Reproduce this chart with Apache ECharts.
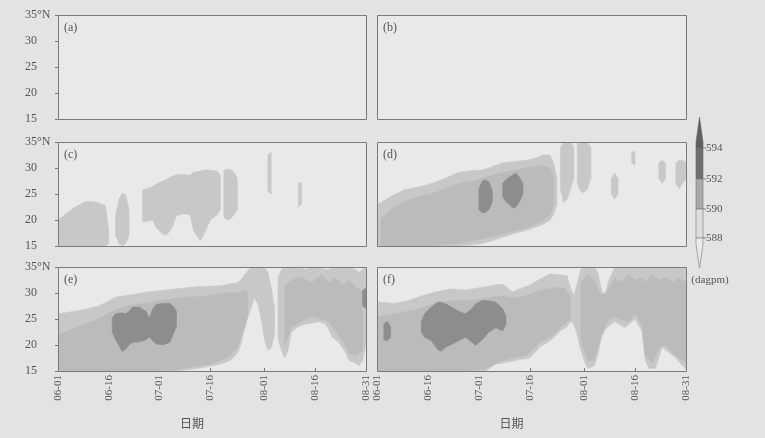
<!DOCTYPE html>
<html><head><meta charset="utf-8">
<script src="https://cdn.jsdelivr.net/npm/echarts@6/dist/echarts.min.js"></script>
<style>html,body{margin:0;padding:0;background:#e3e3e1;}#c{width:765px;height:438px;}</style>
</head><body><div id="c"></div><script>
// ---------- data ----------
const tickDays = [0, 15, 30, 45, 61, 76, 91];
const tickLabels = ['06-01', '06-16', '07-01', '07-16', '08-01', '08-16', '08-31'];
const panelNames = ['(a)', '(b)', '(c)', '(d)', '(e)', '(f)'];
const levelLabels = ['594', '592', '590', '588'];
const unitLabel = '(dagpm)';
const xName = '日期';

// rows: [day index from 06-01, lower latitude, upper latitude]
// panel (c) : >=588 regions
const c588a = [[0,15,20],[3,15,21.5],[5,15,22.5],[8,15,23.5],[10,15,23.6],[12,15,23.3],[14,15,22.8],[15,15.5,18]];
const c588b = [[17,17,21],[18,15.5,24],[19,15,25.2],[20,15.5,24.8],[21,17,22]];
const c588c = [[25,19.6,25.8],[27,19.8,26.2],[28,20,26.5],[29,18.5,26.9],[31,17.2,27.5],[32,17.1,27.8],[33,17.8,28.2],[34,19,28.5],[35,20.8,28.7],[37,21.2,28.8],[39,21,28.6],[40,18,29.2],[42,16,29.4],[43,17,29.6],[45,20,29.6],[47,21,29.4],[48,22,28.6]];
const c588d = [[49,20.5,29.6],[50,20,29.8],[51,20.2,29.7],[52,21,29.2],[53,22,28]];
const c588e = [[62,25.5,32.5],[63,25,33]];
const c588f = [[71,22.5,27.3],[72,23,27]];
// panel (d)
const d588a = [[0,15,22.9],[4,15,24.5],[8,15,25.8],[12,15,26.3],[16,15,27],[20,15,28],[24,15,29.2],[28,15.2,29.5],[31,15.5,29.6],[34,16,30.3],[37,16.7,31],[40,17.3,31.2],[44,18,31.5],[47,18.7,32],[49,19.2,32.5],[51,20,32.5],[52,21,31],[53,23,28]];
const d588b = [[54,26,34],[55,23.3,35],[56,24,35],[57,26,35],[58,28,34]];
const d588c = [[59,27,35],[60,25.5,35],[61,25.2,35],[62,26,35],[63,28,34]];
const d588d = [[69,25,28],[70,24,29],[71,25,28]];
const d588e = [[75,31,33],[76,30.5,33.2]];
const d588f = [[83,28,31],[84,27,31.5],[85,28,31]];
const d588g = [[88,27,31],[89,26,31.5],[90,27,31.5],[91,28,31]];
const d590a = [[1,15,20],[4,15,22],[8,15,23.5],[12,15,24.5],[16,15,25],[20,15.3,26],[24,15.5,27],[28,16,27.5],[32,16.5,28.2],[36,17.2,29],[40,17.8,29.5],[44,18.5,30],[48,19.5,30.5],[51,21,30],[52,23,28]];
const d592a = [[30,22,26],[31,21.3,27.5],[32,21.5,27.7],[33,22,27.3],[34,23.5,25.5]];
const d592b = [[37,24.5,27],[38,23.5,27.8],[40,22.3,28.7],[41,22.5,29],[42,23.5,28.2],[43,25,27]];
// panel (e)
const e588a = [[0,15,26],[5,15,26.5],[9,15,27],[12,15,27.5],[15,15,28.5],[17,15,29.2],[20,15,29.5],[23,15,29.8],[26,15,30.2],[29,15,30.4],[32,15,30.6],[35,15,30.8],[38,15.2,31],[41,15.5,31.2],[44,15.8,31.3],[48,16.3,31.4],[51,17,31.8],[53,18.5,32],[54,20,32.5],[55,23,33.5],[56,25,34.2],[57,27,35],[58,29,35],[59,28,35],[60,25,35],[61,21,35],[62,19,34],[63,19.5,31],[64,22,27]];
const e588b = [[65,21,33],[66,19,34.5],[67,17.5,35],[68,19,35],[69,22.5,35],[71,23.5,35],[73,24,34.5],[75,24.2,35],[77,24.5,35],[79,24,34.5],[80,23,34.5],[81,21.5,34.8],[83,20.5,35],[85,18.5,35],[86,17,35],[88,16.5,34.5],[89,16,34],[90,17,34.5],[91,20,35]];
const e590a = [[0,15,22],[4,15,23],[8,15,24],[12,15,25],[16,15,26.5],[20,15,27.5],[25,15,28],[30,15,28.5],[35,15.2,29],[40,15.8,29.3],[45,16.3,29.5],[50,17.5,30],[53,19.5,30],[55,23,30.5],[56,25.5,30]];
const e590b = [[67,20,31.5],[69,23.5,32.5],[72,24.5,33],[75,25.5,32],[78,25,33.5],[80,24.5,32],[82,22.5,33],[84,21,31.5],[86,18.5,32.5],[88,18,31],[90,19,30.5]];
const e592a = [[16,22.5,25.2],[17,21,26],[19,18.7,26.2],[20,19.2,26],[21,20,26.5],[22,20.5,27.3],[24,20.6,27.3],[26,21,26.5],[27,21.5,25.2],[28,20.8,27],[29,20.2,27.8],[31,20,28],[33,20.5,28],[34,22,27.5],[35,23.5,26.5]];
const e592b = [[90,27.5,30.5],[91,27,31]];
// panel (f)
const f588a = [[0,15,28.3],[5,15,28],[9,15,28.5],[13,15,29.4],[17,15,30.2],[22,15,30.8],[26,15,30.6],[32,15,31.2],[35,16.3,31.6],[37,16.5,31.7],[40,16.9,30.2],[42,17.2,30.8],[45,17.5,31.5],[48,19.6,32.7],[51,20.8,33.7],[54,22.7,33.5],[56,23.5,33.3],[57,24.5,31],[58,24,29.5],[59,21.8,32],[60,19,34.5],[61,17,35],[62,15.5,35],[64,16,35],[65,18,34],[66,21,31],[67,22.7,29],[68,23.5,32],[70,24.5,35],[73,23.3,35],[76,25,35],[78,22.7,35],[79,17,35],[80,15.5,35],[82,15.5,35],[84,19.6,35],[86,18.5,35],[88,17.5,35],[90,16,35],[91,15.5,35]];
const f590a = [[0,15,25.5],[5,15,26],[9,15,26.5],[13,15,27],[17,15,28],[22,15,28.5],[27,15,28.5],[32,15.5,29],[36,16.8,29.5],[40,17.5,29],[44,18,29.5],[48,20.5,30.5],[52,22,31],[55,24,31],[57,25,29.5]];
const f590b = [[60,21,32],[62,17,33.5],[64,17,32.5],[66,22,29.5],[68,24.5,30.5],[70,25.5,33],[72,24.8,32],[74,24.5,33.5],[76,26,32.5],[78,24,33],[79,18,32],[81,16.5,33.5],[83,19.5,32.5],[85,20,33],[87,18.5,32],[89,17.5,33],[91,16.5,32]];
const f592a = [[2,21,24],[3,20.8,24.6],[4,21.5,23.5]];
const f592b = [[13,22.5,24.4],[14,21.5,26],[16,20.8,27.3],[18,19,28.3],[19,18.8,28.2],[20,19.5,28],[22,20.1,27.3],[24,20.8,26.5],[26,21.5,26],[28,20.5,27],[29,19.9,27.9],[31,21,28.6],[33,22.5,28.5],[35,23.3,28.2],[37,22.7,27],[38,24,25.5]];

// ---------- layout & style ----------
const C588 = '#c8c8c6', C590 = '#bbbbb9', C592 = '#8d8d8b';
const colLeft = [58, 377], colWidth = [308, 309];
const rowTop = [15, 142, 267], panelH = 104;
const serif = '"Liberation Serif", "DejaVu Serif", serif';
const txt = '#555';

const days = [];
[[6, 30], [7, 31], [8, 31]].forEach(([m, n]) => {
  for (let d = 1; d <= n; d++) days.push('0' + m + '-' + (d < 10 ? '0' + d : d));
});
const isTick = (i) => tickDays.indexOf(i) >= 0;

const grids = [], xAxes = [], yAxes = [], graphics = [];
for (let p = 0; p < 6; p++) {
  const col = p % 2, row = Math.floor(p / 2);
  const L = colLeft[col], T = rowTop[row], W = colWidth[col];
  grids.push({ left: L, top: T, width: W, height: panelH, show: true, backgroundColor: '#e9e9e7', borderWidth: 0 });
  const bottom = row === 2;
  xAxes.push({
    gridIndex: p, type: 'category', data: days, boundaryGap: false,
    axisLine: { show: false }, splitLine: { show: false },
    axisTick: { show: bottom, inside: true, length: 3, interval: isTick, lineStyle: { color: '#777' } },
    axisLabel: { show: bottom, rotate: 90, interval: isTick, margin: 4, fontFamily: serif, fontSize: 11, color: txt }
  });
  yAxes.push({
    gridIndex: p, type: 'value', min: 15, max: 35, interval: 5,
    axisLine: { show: false }, splitLine: { show: false },
    axisTick: { show: col === 0, length: 3, lineStyle: { color: '#777' } },
    axisLabel: { show: col === 0, align: 'left', margin: 33, fontFamily: serif, fontSize: 12, color: txt,
      formatter: v => v === 35 ? '35°N' : String(v) }
  });
  graphics.push({ type: 'rect', z: 100, shape: { x: L + 0.5, y: T + 0.5, width: W, height: panelH },
    style: { fill: 'none', stroke: '#7a7a7a', lineWidth: 1 } });
  graphics.push({ type: 'text', z: 101, x: L + 6, y: T + 7,
    style: { text: panelNames[p], font: '12px ' + serif, fill: txt } });
  if (bottom) {
    graphics.push({ type: 'text', z: 101, x: L + W / 2 - 20, y: 423,
      style: { text: xName, font: '12px "Noto Sans CJK SC"', fill: txt, align: 'center', verticalAlign: 'middle' } });
  }
}

function band(rows, p, color) {
  return {
    type: 'custom', coordinateSystem: 'cartesian2d', xAxisIndex: p, yAxisIndex: p,
    clip: true, silent: true, data: rows, encode: { x: 0, y: [1, 2] },
    renderItem: function (params, api) {
      if (params.dataIndexInside !== 0) return null;
      const top = [], bot = [];
      for (let i = 0; i < rows.length; i++) {
        top.push(api.coord([rows[i][0], rows[i][2]]));
        bot.push(api.coord([rows[i][0], rows[i][1]]));
      }
      return { type: 'polygon', shape: { points: top.concat(bot.reverse()) },
        style: { fill: color, stroke: color, lineWidth: 0.5 } };
    }
  };
}

const series = [];
[c588a, c588b, c588c, c588d, c588e, c588f].forEach(r => series.push(band(r, 2, C588)));
[d588a, d588b, d588c, d588d, d588e, d588f, d588g].forEach(r => series.push(band(r, 3, C588)));
[d590a].forEach(r => series.push(band(r, 3, C590)));
[d592a, d592b].forEach(r => series.push(band(r, 3, C592)));
[e588a, e588b].forEach(r => series.push(band(r, 4, C588)));
[e590a, e590b].forEach(r => series.push(band(r, 4, C590)));
[e592a, e592b].forEach(r => series.push(band(r, 4, C592)));
[f588a].forEach(r => series.push(band(r, 5, C588)));
[f590a, f590b].forEach(r => series.push(band(r, 5, C590)));
[f592a, f592b].forEach(r => series.push(band(r, 5, C592)));

// colour bar (legend)
const cbX = 696, cbW = 7;
const cbY = { tip: 117, v594: 148, v592: 179, v590: 209, v588: 238, bot: 268 };
graphics.push({ type: 'polygon', z: 100, shape: { points: [[cbX + cbW / 2, cbY.tip], [cbX + cbW, cbY.v594 - 6], [cbX + cbW, cbY.v594], [cbX, cbY.v594], [cbX, cbY.v594 - 6]] },
  style: { fill: '#5f5f5d', stroke: '#666', lineWidth: 0.6 } });
graphics.push({ type: 'rect', z: 100, shape: { x: cbX, y: cbY.v594, width: cbW, height: cbY.v592 - cbY.v594 },
  style: { fill: '#6f6f6d', stroke: '#666', lineWidth: 0.6 } });
graphics.push({ type: 'rect', z: 100, shape: { x: cbX, y: cbY.v592, width: cbW, height: cbY.v590 - cbY.v592 },
  style: { fill: '#a9a9a7', stroke: '#777', lineWidth: 0.6 } });
graphics.push({ type: 'rect', z: 100, shape: { x: cbX, y: cbY.v590, width: cbW, height: cbY.v588 - cbY.v590 },
  style: { fill: '#dededc', stroke: '#777', lineWidth: 0.6 } });
graphics.push({ type: 'polygon', z: 100, shape: { points: [[cbX, cbY.v588], [cbX + cbW, cbY.v588], [cbX + cbW, cbY.v588 + 6], [cbX + cbW / 2, cbY.bot], [cbX, cbY.v588 + 6]] },
  style: { fill: '#ebebe9', stroke: '#777', lineWidth: 0.6 } });
[cbY.v594, cbY.v592, cbY.v590, cbY.v588].forEach((y, i) => {
  graphics.push({ type: 'line', z: 101, shape: { x1: cbX + cbW, y1: y, x2: cbX + cbW + 3, y2: y }, style: { stroke: '#666', lineWidth: 0.8 } });
  graphics.push({ type: 'text', z: 101, x: cbX + cbW + 3, y: y,
    style: { text: levelLabels[i], font: '11px ' + serif, fill: txt, verticalAlign: 'middle' } });
});
graphics.push({ type: 'text', z: 101, x: 710, y: 280,
  style: { text: unitLabel, font: '11px ' + serif, fill: txt, align: 'center', verticalAlign: 'middle' } });

const chart = echarts.init(document.getElementById('c'), null, { renderer: 'canvas' });
chart.setOption({
  backgroundColor: '#e3e3e1', animation: false,
  grid: grids, xAxis: xAxes, yAxis: yAxes, series: series, graphic: graphics
});
</script></body></html>
